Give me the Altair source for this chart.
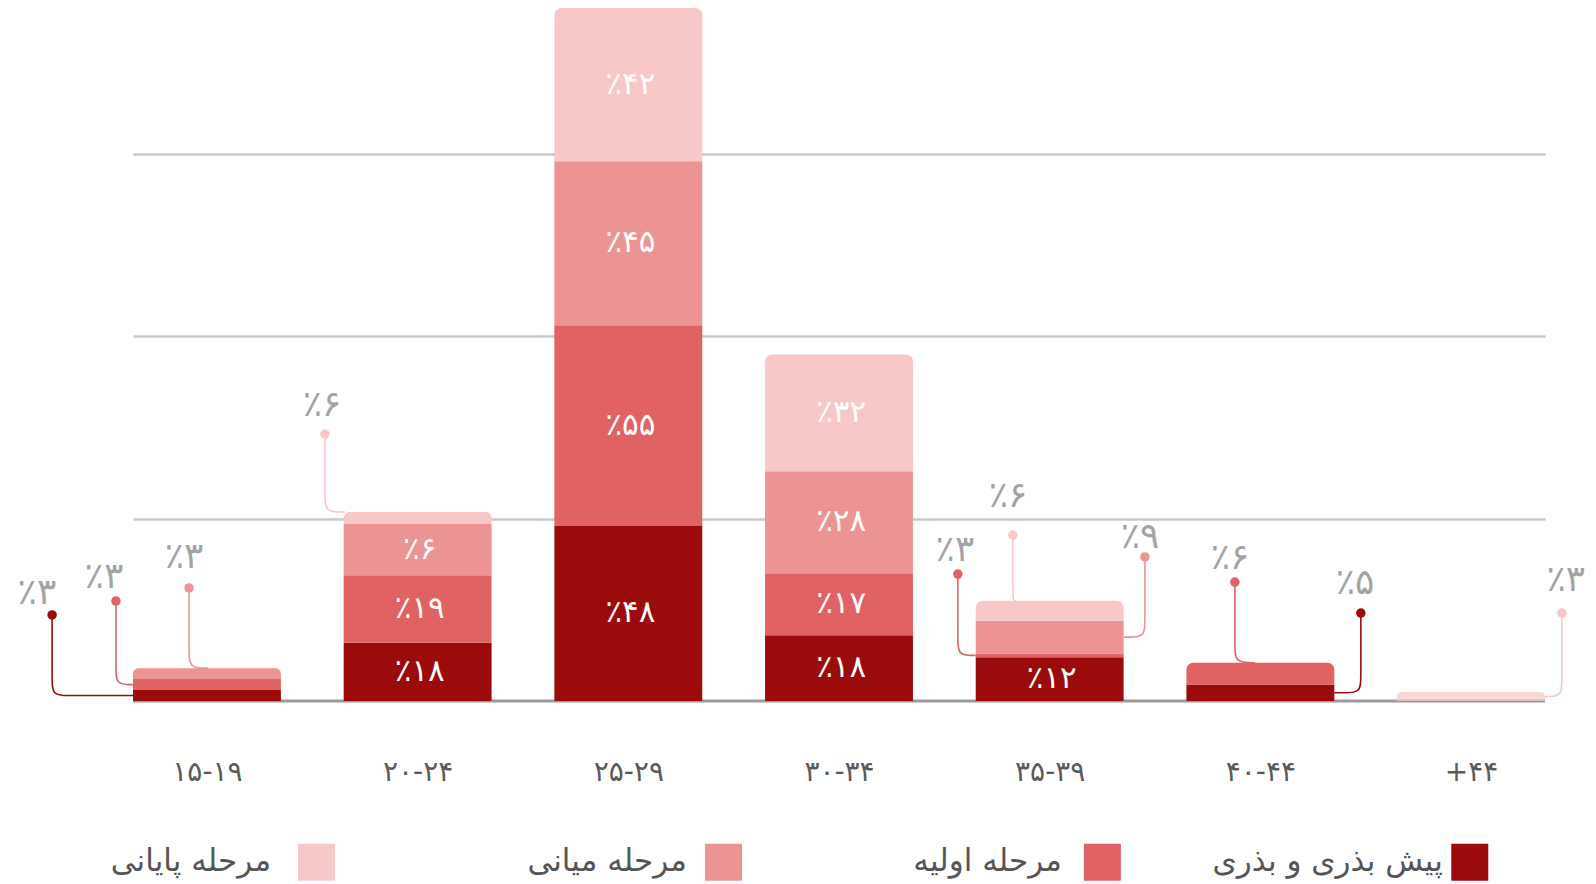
import altair as alt
import pandas as pd

# ---------------- data ----------------
categories = ["۱۵-۱۹", "۲۰-۲۴", "۲۵-۲۹", "۳۰-۳۴", "۳۵-۳۹", "۴۰-۴۴", "+۴۴"]
series = ["پیش بذری و بذری", "مرحله اولیه", "مرحله میانی", "مرحله پایانی"]
colors = ["#9B0B0B", "#E06262", "#EC9494", "#F8C8C8"]

# drawn segment heights
seed_h = [3, 16, 48, 18, 12, 4.5, 0]
early_h = [3, 18.5, 55, 17, 1, 6, 0]
mid_h = [3, 14, 45, 28, 9, 0, 0]
late_h = [0, 3.3, 42, 32, 5.5, 0, 2.5]

# printed percentages
seed_pct = [3, 18, 48, 18, 12, 5, None]
early_pct = [3, 19, 55, 17, 3, 6, None]
mid_pct = [3, 6, 45, 28, 9, None, None]
late_pct = [None, 6, 42, 32, 6, None, 3]

# callouts: category index, series index, anchor side
call_cat = [0, 0, 0, 1, 4, 4, 4, 5, 5, 6]
call_ser = [0, 1, 2, 3, 1, 3, 2, 1, 0, 3]
call_side = ["L", "L", "T", "T", "L", "T", "R", "T", "R", "R"]
# callout layout (data units)
call_dot_x = [-0.735, -0.432, -0.085, 0.560, 3.564, 3.825, 4.452, 4.879, 5.477, 6.431]
call_dot_y = [23.6, 27.4, 31.0, 73.2, 34.8, 45.5, 39.5, 32.6, 24.1, 24.1]
call_lab_x = [-0.807, -0.489, -0.109, 0.546, 3.550, 3.802, 4.429, 4.856, 5.449, 6.450]
call_lab_y = [29.6, 34.0, 39.5, 81.2, 41.4, 56.2, 45.0, 39.2, 32.4, 33.2]
call_run = [0, 0, 0.09, 0.095, 0, 0.015, 0, 0.095, 0, 0]

# legend layout (data units)
leg_sq_x = [5.994, 4.250, 2.452, 0.520]
leg_tx_x = [5.866, 4.058, 2.278, 0.304]
leg_y = -44.2

HW = 0.351  # half bar width in x units
FONT = "DejaVu Sans"


def fa(n):
    s = str(n)
    return s.translate(str.maketrans("0123456789", "۰۱۲۳۴۵۶۷۸۹"))


def pct(n):
    return "٪" + fa(n)


heights = [seed_h, early_h, mid_h, late_h]
pcts = [seed_pct, early_pct, mid_pct, late_pct]
called = set(zip(call_cat, call_ser))

rows = []
tops = {}
for i, cat in enumerate(categories):
    base = 0.0
    last = None
    for s in range(4):
        h = heights[s][i]
        if h <= 0:
            continue
        p = pcts[s][i]
        rows.append(dict(cat=cat, i=i, series=series[s], x=i - HW, x2=i + HW,
                         y0=base, y1=base + h, ym=base + h / 2,
                         xc=i + 0.01,
                         lab=(pct(p) if (p is not None and (i, s) not in called) else ""),
                         op=(0.72 if i == 6 else 1.0), top=False))
        last = len(rows) - 1
        base += h
    if last is not None:
        rows[last]["top"] = True
    tops[i] = base
bars = pd.DataFrame(rows)

seg = {(r["i"], series.index(r["series"])): r for r in rows}

line_rows = []
dot_rows = []
lab_rows = []
RV = 4.6   # corner radius, y units
RH = 0.08  # corner radius, x units
for c in range(len(call_cat)):
    i, s, side = call_cat[c], call_ser[c], call_side[c]
    dx, dy = call_dot_x[c], call_dot_y[c]
    r = seg[(i, s)]
    if side == "T":
        ay = tops[i]
        ex = dx + call_run[c]
        pts = [(dx, dy), (dx, dy), (dx, ay + min(RV, 5.5)), (dx, ay), (ex, ay), (ex, ay)]
    else:
        ay = r["ym"]
        ex = i - HW if side == "L" else i + HW
        sgn = 1 if ex > dx else -1
        rh = min(RH, abs(ex - dx) * 0.9)
        pts = [(dx, dy), (dx, dy), (dx, ay + RV), (dx, ay), (dx + sgn * rh, ay), (ex, ay), (ex, ay)]
    for k, (px, py) in enumerate(pts):
        line_rows.append(dict(cid=c, k=k, x=px, y=py, series=series[s]))
    dot_rows.append(dict(x=dx, y=dy, series=series[s]))
    lab_rows.append(dict(x=call_lab_x[c], y=call_lab_y[c], lab=pct(pcts[s][i])))
lines = pd.DataFrame(line_rows)
dots = pd.DataFrame(dot_rows)
labs = pd.DataFrame(lab_rows)

legend = pd.DataFrame(dict(series=series, sx=leg_sq_x, tx=leg_tx_x, y=[leg_y] * 4))
base_df = pd.DataFrame(dict(x=[-HW], x2=[6 + HW], y=[0]))

# ---------------- scales / axes ----------------
xscale = alt.Scale(domain=[-HW, 6 + HW], nice=False, zero=False)
yscale = alt.Scale(domain=[0, 190], nice=False)
label_expr = "[" + ",".join("'" + c + "'" for c in categories) + "][datum.value]"
xaxis = alt.Axis(values=list(range(7)), labelExpr=label_expr, domain=False, ticks=False,
                 grid=False, labelFontSize=28, labelColor="#5a5a5a", labelFont=FONT,
                 labelPadding=57, title=None, labelFlush=False, labelOverlap=False,
                 labelBound=False)
yaxis = alt.Axis(values=[50, 100, 150], grid=True, labels=False, ticks=False, domain=False,
                 gridColor="#c8c8c8", gridWidth=2.5, title=None)
cscale = alt.Scale(domain=series, range=colors)


def X(f):
    return alt.X(f, type="quantitative", scale=xscale, axis=xaxis)


def Y(f):
    return alt.Y(f, type="quantitative", scale=yscale, axis=yaxis)


baseline = alt.Chart(base_df).mark_rule(color="#9a9a9a", strokeWidth=3).encode(
    x=X("x"), x2="x2", y=Y("y"))

bar_enc = dict(x=X("x"), x2="x2", y=Y("y0"), y2="y1",
               color=alt.Color("series:N", scale=cscale, legend=None),
               opacity=alt.Opacity("op:Q", scale=None))
bars_low = alt.Chart(bars).transform_filter("!datum.top").mark_bar().encode(**bar_enc)
bars_top = alt.Chart(bars).transform_filter("datum.top").mark_bar(
    cornerRadiusTopLeft=7, cornerRadiusTopRight=7).encode(**bar_enc)

inside = alt.Chart(bars).transform_filter("datum.lab != ''").mark_text(
    color="white", fontSize=31, font=FONT, align="center", baseline="middle").encode(
    x=X("xc"), y=Y("ym"), text="lab:N")

clines = alt.Chart(lines).mark_line(interpolate="basis", strokeWidth=1.6).encode(
    x=X("x"), y=Y("y"), detail="cid:N", order="k:Q",
    color=alt.Color("series:N", scale=cscale, legend=None))

cdots = alt.Chart(dots).mark_circle(size=90, opacity=1).encode(
    x=X("x"), y=Y("y"), color=alt.Color("series:N", scale=cscale, legend=None))

clabs = alt.Chart(labs).mark_text(color="#a3a3a3", fontSize=36, font=FONT,
                                  align="center", baseline="middle").encode(
    x=X("x"), y=Y("y"), text="lab:N")

leg_sq = alt.Chart(legend).mark_point(shape="square", filled=True, size=1369, opacity=1).encode(
    x=X("sx"), y=Y("y"), color=alt.Color("series:N", scale=cscale, legend=None))
leg_tx = alt.Chart(legend).mark_text(color="#555555", fontSize=31, font=FONT,
                                     align="right", baseline="middle").encode(
    x=X("tx"), y=Y("y"), text="series:N")

chart = alt.layer(baseline, bars_low, bars_top, inside, clines, cdots, clabs, leg_sq, leg_tx).properties(
    width=1412, height=693,
    padding={"left": 125, "top": 0, "right": 43, "bottom": 180},
    autosize=alt.AutoSizeParams(type="none"),
    background="white",
).configure_view(stroke=None)

chart.save("out.html", embed_options={"renderer": "svg", "actions": False})
